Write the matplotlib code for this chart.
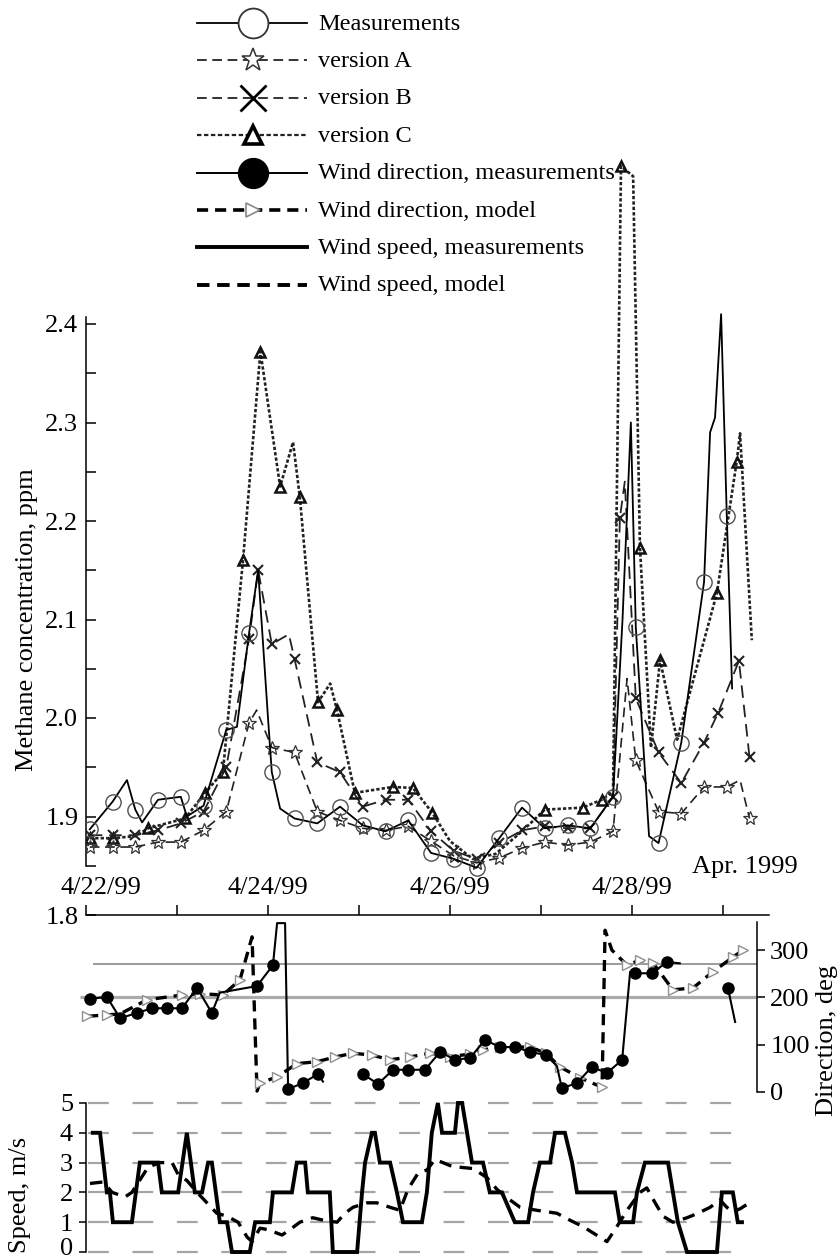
import numpy as np
import matplotlib
matplotlib.use('Agg')
import matplotlib.pyplot as plt
import matplotlib.transforms as mtransforms

plt.rcParams['font.family'] = ['Liberation Serif', 'DejaVu Serif']
plt.rcParams['lines.scale_dashes'] = False

# ---------------- data (hours since 4/22/99 00:00) ----------------
meas_h = [1, 7, 10.8, 13, 14.8, 19, 25, 26.6, 31, 37, 39.8, 43, 45.4, 48, 49, 51.2, 55, 61, 67, 73,
          79, 85, 91, 97, 103, 109, 115, 121, 127, 133, 139, 141.5, 143.7, 145, 148.5, 151, 157, 163,
          164.6, 165.9, 167.5, 169, 170.4]
meas_v = [1.887, 1.915, 1.937, 1.907, 1.894, 1.917, 1.920, 1.900, 1.911, 1.988, 1.991, 2.086, 2.150, 2.00,
          1.945, 1.908, 1.898, 1.893, 1.910, 1.891, 1.885, 1.896, 1.863, 1.857, 1.848, 1.878, 1.909, 1.888,
          1.891, 1.888, 1.920, 2.10, 2.30, 2.092, 1.88, 1.873, 1.975, 2.138, 2.29, 2.305, 2.41, 2.205, 2.03]

verA_h = [1, 7, 13, 19, 25, 31, 37, 43, 45, 49, 55, 61, 67, 73, 79, 85, 91, 97, 103, 109, 115, 121, 127,
          133, 139, 142.7, 145, 151, 157, 163, 169, 172.5, 175]
verA_v = [1.869, 1.869, 1.869, 1.874, 1.874, 1.886, 1.905, 1.995, 2.008, 1.970, 1.965, 1.905, 1.896, 1.888,
          1.886, 1.890, 1.875, 1.860, 1.853, 1.858, 1.868, 1.874, 1.871, 1.874, 1.885, 2.04, 1.957, 1.905,
          1.903, 1.930, 1.930, 1.937, 1.898]

verB_h = [1, 7, 13, 19, 25, 31, 37, 43, 45.4, 49, 53.5, 55, 61, 67, 73, 79, 85, 91, 97, 103, 109, 115, 121,
          127, 133, 139, 140.8, 142.1, 145, 151, 157, 163, 166.7, 172.2, 175]
verB_v = [1.881, 1.881, 1.881, 1.886, 1.893, 1.905, 1.950, 2.080, 2.150, 2.075, 2.085, 2.060, 1.955, 1.945,
          1.910, 1.917, 1.917, 1.885, 1.865, 1.857, 1.873, 1.886, 1.890, 1.888, 1.888, 1.920, 2.203, 2.240,
          2.020, 1.965, 1.934, 1.975, 2.005, 2.058, 1.960]
verB_mk = [1] * 10 + [0] + [1] * 16 + [0] + [1] * 7

verC_h = [1, 7, 13, 16.4, 26.1, 31.4, 36.1, 41.4, 46, 51.2, 54.6, 56.4, 61.2, 64.4, 66.2, 70.9, 80.9, 86.2,
          91.3, 96, 102, 108, 115, 121, 131, 136, 139, 141.1, 144.3, 146.1, 149, 151.4, 153, 155.9, 166.4,
          171.6, 172.5, 175.6]
verC_v = [1.878, 1.878, 1.880, 1.888, 1.898, 1.924, 1.945, 2.160, 2.372, 2.235, 2.280, 2.224, 2.016, 2.035,
          2.008, 1.924, 1.930, 1.929, 1.904, 1.875, 1.857, 1.862, 1.885, 1.907, 1.909, 1.917, 1.925, 2.560,
          2.550, 2.173, 1.970, 2.059, 2.030, 1.978, 2.127, 2.260, 2.289, 2.079]
verC_mk = [1, 1, 0, 1, 1, 1, 1, 1, 1, 1, 0, 1, 1, 0, 1, 1, 1, 1, 1, 0, 0, 0, 0, 1, 1, 1, 0, 1, 0, 1,
           0, 1, 0, 0, 1, 1, 0, 0]

dirm_h = [1.1, 5.5, 9, 13.4, 17.4, 21.4, 25.3, 29.3, 33.2, 35.3, 45.1, 49.3, 50.4, 52.5, 53.3, 57.2, 61.2,
          62.5, 67, 73, 77, 81, 84.9, 89.4, 93.4, 97.3, 101.3, 105.2, 109.2, 113.1, 117.1, 121.3, 124.2,
          125.5, 129.5, 133.4, 137.4, 141.4, 143.5, 144.8, 149.3, 153.2, 156.6, 160, 169.3, 171.2]
dirm_v = [197, 201, 156, 167, 177, 177, 177, 220, 167, 210, 224, 268, 357, 357, 6, 19, 38, 22, np.nan, 38,
          17, 47, 47, 47, 85, 68, 72, 110, 95, 95, 85, 78, 55, 8, 19, 53, 40, 68, 254, 251, 251, 275, 272,
          np.nan, 220, 148]
dirm_mk = [1, 1, 1, 1, 1, 1, 1, 1, 1, 0, 1, 1, 0, 0, 1, 1, 1, 0, 0, 1, 1, 1, 1, 1, 1, 1, 1, 1, 1, 1,
           1, 1, 0, 1, 1, 1, 1, 1, 0, 1, 1, 1, 0, 0, 1, 0]

dirmod_h = [0.3, 5.5, 9, 16.1, 25.3, 30, 36.1, 40.6, 43.8, 45.1, 45.9, 50.4, 55.6, 60.9, 65.7, 70.4, 75.4,
            80.2, 85.4, 90.7, 96, 101.3, 104.7, 109.2, 117.1, 121.3, 125, 130.3, 136.1, 136.9, 138.7, 142.7,
            146.1, 149.5, 154.8, 160.1, 165.3, 170.6, 173.3]
dirmod_v = [160, 163, 165, 195, 205, 208, 205, 237, 328, 2, 19, 32, 60, 64, 74, 82, 78, 68, 74, 82, 75, 80,
            89, 95, 95, 82, 53, 30, 10, 342, 300, 268, 279, 273, 216, 220, 254, 285, 300]
dirmod_mk = [1, 1, 0, 1, 1, 1, 1, 1, 0, 0, 1, 1, 1, 1, 1, 1, 1, 1, 1, 1, 1, 1, 1, 1, 1, 1, 1, 1, 1, 0,
             0, 1, 1, 1, 1, 1, 1, 1, 1]

spd_h = [1.8, 3.7, 5.5, 6.3, 7.1, 12.1, 14.2, 19.0, 20.0, 24.3, 26.6, 28.7, 30.6, 32.2, 33.2, 35.3, 37.2,
         38.5, 43.2, 44.6, 48.5, 49.3, 54.3, 55.6, 57.8, 58.5, 64.3, 65.1, 71.5, 72.8, 73.6, 75.4, 76.2,
         77.5, 80.2, 82.0, 83.6, 88.6, 89.9, 91.2, 92.8, 93.9, 97.3, 98.1, 99.2, 101.8, 104.7, 106.5, 109.7,
         113.1, 116.6, 117.9, 119.7, 122.4, 123.7, 126.3, 128.2, 129.5, 139.5, 140.8, 144.3, 145.3, 147.4,
         153.5, 154.8, 156.1, 158.5, 166.4, 167.7, 170.6, 171.9, 173.0]
spd_v = [4, 4, 2, 2, 1, 1, 3, 3, 2, 2, 4, 2, 2, 3, 3, 1, 1, 0, 0, 1, 1, 2, 2, 3, 3, 2, 2, 0, 0, 2,
         3, 4, 4, 3, 3, 2, 1, 1, 2, 4, 5, 4, 4, 5, 5, 3, 3, 2, 2, 1, 1, 2, 3, 3, 4, 4, 3, 2, 2, 1,
         1, 2, 3, 3, 2, 1, 0, 0, 2, 2, 1, 1]

spdmod_h = [1.05, 4.5, 6.9, 10.3, 12.1, 16.4, 19.5, 22.7, 24.3, 26.6, 29.3, 31.9, 34.5, 37.2, 40.1, 42.5,
            43.8, 45.9, 48.0, 51.7, 53.8, 56.4, 59.8, 62.5, 66.2, 68.3, 70.4, 74.1, 76.7, 80.2, 82.8, 84.9,
            87.6, 89.9, 92.0, 94.1, 96.0, 98.1, 102.1, 105.7, 108.4, 111.8, 114.5, 118.9, 124.2, 127.6,
            131.1, 135.5, 137.4, 140.0, 142.7, 146.1, 147.9, 150.1, 152.2, 154.8, 158.5, 161.4, 164.6,
            167.2, 169.0, 170.6, 172.5, 175.6]
spdmod_v = [2.3, 2.35, 2.0, 1.85, 2.0, 2.85, 3.0, 3.0, 2.6, 2.4, 2.0, 1.65, 1.3, 1.2, 1.0, 0.5, 0.35, 0.8,
            0.75, 0.57, 0.75, 1.0, 1.15, 1.07, 1.0, 1.3, 1.5, 1.65, 1.65, 1.5, 1.4, 2.1, 2.65, 2.75, 3.1,
            3.0, 2.9, 2.85, 2.8, 2.5, 2.1, 1.75, 1.5, 1.4, 1.3, 1.07, 0.85, 0.5, 0.35, 0.85, 1.4, 2.0, 2.15,
            1.65, 1.2, 1.0, 1.15, 1.3, 1.5, 1.75, 1.5, 1.35, 1.45, 1.7]

conc_ticks = [1.8, 1.9, 2.0, 2.1, 2.2, 2.3, 2.4]
date_ticks_h = [0, 48, 96, 144]
date_labels = ['4/22/99', '4/24/99', '4/26/99', '4/28/99']
dir_ticks = [0, 100, 200, 300]
dir_ref_lines = [270, 200]
spd_ticks = [0, 1, 2, 3, 4, 5]

legend_labels = ['Measurements', 'version A', 'version B', 'version C',
                 'Wind direction, measurements', 'Wind direction, model',
                 'Wind speed, measurements', 'Wind speed, model']

# ---------------- figure / layout (pixel helpers) ----------------
WPX, HPX = 839, 1259
fig = plt.figure(figsize=(WPX / 100, HPX / 100), dpi=100)


def fx(px):
    return px / WPX


def fy(py):
    return 1 - py / HPX


X0, X1 = 86, 768.5
TS = 19  # tick font size

# styles
st_meas = dict(color='black', lw=1.3, zorder=6)
mk_meas = dict(marker='o', ms=11, mfc='none', mec='#505050', mew=1.0, zorder=7)
st_A = dict(color='#222222', lw=1.2, dashes=(7, 4), zorder=3)
mk_A = dict(marker='*', ms=10, mfc='none', mec='#333333', mew=0.9, zorder=4)
st_B = dict(color='#222222', lw=1.3, dashes=(9, 5), zorder=3)
mk_B = dict(marker='x', ms=7.5, mec='#222222', mew=1.5, zorder=4)
st_C = dict(color='#222222', lw=1.9, dashes=(2.4, 1.5), zorder=3)
mk_C = dict(marker='^', ms=7, mfc='none', mec='#111111', mew=1.8, zorder=4)
st_dm = dict(color='black', lw=1.5, zorder=5)
mk_dm = dict(marker='o', ms=8, mfc='black', mec='black', zorder=6)
st_dmod = dict(color='black', lw=2.4, dashes=(8, 5), zorder=3)
mk_dmod = dict(marker='>', ms=7, mfc='white', mec='#909090', mew=1.0, zorder=4)
st_sp = dict(color='black', lw=2.8, zorder=5, solid_joinstyle='miter')
st_spmod = dict(color='black', lw=2.4, dashes=(9, 6), zorder=4)


def plot_series(ax, h, v, mk, st, mst):
    h = np.asarray(h, float)
    v = np.asarray(v, float)
    m = np.asarray(mk, bool)
    ax.plot(h, v, **st)
    ax.plot(h[m], v[m], linestyle='none', **mst)


# ---------------- main concentration axes ----------------
ax = fig.add_axes([fx(X0), fy(915), fx(X1) - fx(X0), fy(127) - fy(915)])
ax.patch.set_visible(False)
ax.set_xlim(0, 180)
ax.set_ylim(1.8, 2.6)
for s in ['top', 'right']:
    ax.spines[s].set_visible(False)
ax.spines['left'].set_bounds(1.85, 2.407)
ax.spines['bottom'].set_bounds(0, 180)
for s in ['left', 'bottom']:
    ax.spines[s].set_linewidth(1.1)
ax.set_yticks(conc_ticks)
ax.set_yticklabels([f'{t:.1f}' for t in conc_ticks])
ax.set_yticks(np.arange(1.85, 2.4, 0.1), minor=True)
ax.tick_params(axis='y', which='both', direction='in', length=7.2, width=1.1, labelsize=TS, pad=5.5)
ax.set_xticks(np.arange(0, 169, 24))
ax.tick_params(axis='x', which='both', direction='in', length=7.2, width=1.1, labelbottom=False)

h = np.asarray(meas_h, float)
plot_series(ax, verC_h, verC_v, verC_mk, st_C, mk_C)
plot_series(ax, verB_h, verB_v, verB_mk, st_B, mk_B)
plot_series(ax, verA_h, verA_v, np.isclose(np.mod(np.asarray(verA_h) - 1, 6), 0), st_A, mk_A)
plot_series(ax, meas_h, meas_v, np.isclose(np.mod(h - 1, 6), 0), st_meas, mk_meas)

for i, (xt, lab) in enumerate(zip(date_ticks_h, date_labels)):
    off = 15 if i == 0 else 0
    ax.annotate(lab, xy=(xt, 1.8), xytext=(off, 27), textcoords='offset pixels',
                ha='center', va='center', fontsize=TS)
ax.annotate('Apr. 1999', xy=(180, 1.8), xytext=(-24, 48), textcoords='offset pixels',
            ha='center', va='center', fontsize=TS)

fig.text(fx(27), fy(620), 'Methane concentration, ppm', rotation=90, ha='center', va='center',
         fontsize=TS)

# ---------------- wind direction axes ----------------
axd = fig.add_axes([fx(X0), fy(1092), fx(X1) - fx(X0), fy(921.7) - fy(1092)])
axd.patch.set_visible(False)
axd.set_xlim(0, 180)
axd.set_ylim(0, 360)
for s in ['top', 'left', 'bottom']:
    axd.spines[s].set_visible(False)
axd.spines['right'].set_position(('data', 177))
axd.spines['right'].set_bounds(0, 360)
axd.spines['right'].set_linewidth(1.1)
axd.set_xticks([])
axd.yaxis.tick_right()
axd.set_yticks(dir_ticks)
axd.tick_params(axis='y', direction='out', length=5.8, width=1.1, labelsize=TS, pad=3.6)
axd.hlines(dir_ref_lines[0], 1.8, 177, colors='#8a8a8a', lw=1.2, zorder=1, clip_on=False)
axd.hlines(dir_ref_lines[1], -1.6, 177, colors='#ababab', lw=2.3, zorder=1, clip_on=False)
plot_series(axd, dirmod_h, dirmod_v, dirmod_mk, st_dmod, mk_dmod)
plot_series(axd, dirm_h, dirm_v, dirm_mk, st_dm, mk_dm)
for ln in axd.lines:
    ln.set_clip_on(False)
fig.text(fx(827), fy(1040), 'Direction, deg', rotation=90, ha='center', va='center', fontsize=TS)

# ---------------- wind speed axes ----------------
axs = fig.add_axes([fx(X0), fy(1255), fx(X1) - fx(X0), fy(1100) - fy(1255)])
axs.patch.set_visible(False)
axs.set_xlim(0, 180)
axs.set_ylim(-0.1, 5.1)
for s in ['top', 'right', 'bottom']:
    axs.spines[s].set_visible(False)
axs.spines['left'].set_bounds(0, 5)
axs.spines['left'].set_linewidth(1.1)
axs.set_xticks([])
axs.set_yticks(spd_ticks)
axs.tick_params(axis='y', direction='out', length=5, width=1.1, labelsize=TS, pad=4.3)
axs.hlines(spd_ticks, 0.5, 175, colors='#a5a5a5', lw=1.6, linestyles=(0, (15, 17)), zorder=1)
axs.plot(spdmod_h, spdmod_v, **st_spmod)
axs.plot(spd_h, spd_v, **st_sp)
for ln in axs.lines:
    ln.set_clip_on(False)
fig.text(fx(20), fy(1195), 'Speed, m/s', rotation=90, ha='center', va='center', fontsize=TS)
fig.canvas.draw()
zero_lab = axs.get_yticklabels()[0]
zero_lab.set_transform(zero_lab.get_transform() +
                       mtransforms.ScaledTranslation(0, 4 / 72, fig.dpi_scale_trans))

# ---------------- legend (drawn manually in pixel space) ----------------
lg = fig.add_axes([0, 0, 1, 1])
lg.set_xlim(0, WPX)
lg.set_ylim(HPX, 0)
lg.axis('off')
lg.patch.set_visible(False)
LX0, LX1, LXM, LTX = 197, 307, 253, 318
rows = [23 + 37.4 * i for i in range(len(legend_labels))]
leg_line = [
    dict(color='black', lw=1.3),
    dict(color='#333333', lw=1.4, dashes=(7, 4)),
    dict(color='#333333', lw=1.4, dashes=(7, 4)),
    dict(color='#222222', lw=1.6, dashes=(3.2, 1.8)),
    dict(color='black', lw=1.4),
    dict(color='black', lw=2.6, dashes=(8, 5)),
    dict(color='black', lw=2.8),
    dict(color='black', lw=2.8, dashes=(9, 5.5)),
]
leg_mark = [
    dict(marker='o', ms=21.5, mfc='white', mec='#333333', mew=1.3),
    dict(marker='*', ms=17, mfc='white', mec='#333333', mew=1.1),
    dict(marker='x', ms=19, mec='black', mew=2.0),
    dict(marker='^', ms=13, mfc='white', mec='black', mew=2.6),
    dict(marker='o', ms=21.5, mfc='black', mec='black'),
    dict(marker='>', ms=10, mfc='white', mec='#888888', mew=1.2),
    None,
    None,
]
for y, lab, lst, mst in zip(rows, legend_labels, leg_line, leg_mark):
    lg.plot([LX0, LX1], [y, y], **lst)
    if mst is not None:
        lg.plot([LXM], [y], linestyle='none', **mst)
    lg.text(LTX, y + 1, lab, fontsize=17.5, ha='left', va='center')

fig.savefig('out.png', dpi=100)
